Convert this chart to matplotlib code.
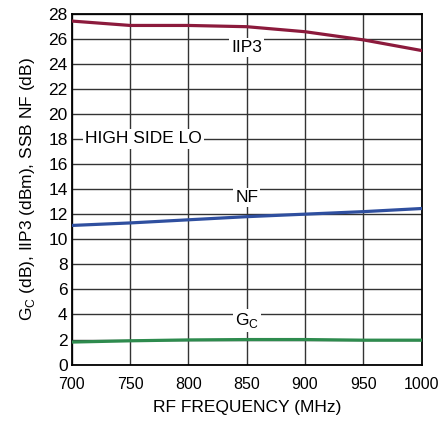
import matplotlib.pyplot as plt

# data
freq = [700, 750, 800, 850, 900, 950, 1000]
iip3 = [27.4, 27.05, 27.05, 26.95, 26.55, 25.9, 25.05]
nf = [11.1, 11.3, 11.55, 11.8, 12.0, 12.2, 12.45]
gc = [1.8, 1.9, 1.97, 2.0, 2.0, 1.95, 1.95]

font = 'Liberation Sans'
plt.rcParams['font.family'] = [font, 'DejaVu Sans']
plt.rcParams['mathtext.fontset'] = 'custom'
plt.rcParams['mathtext.rm'] = font

fs = 12.5
fig = plt.figure(figsize=(4.41, 4.23), dpi=100)
ax = fig.add_axes([0.163, 0.138, 0.793, 0.830])

ax.plot(freq, iip3, color='#8c1a3c', lw=2.3, zorder=3)
ax.plot(freq, nf, color='#2f4f9f', lw=2.3, zorder=3)
ax.plot(freq, gc, color='#2e8b4e', lw=2.3, zorder=3)

ax.set_xlim(700, 1000)
ax.set_ylim(0, 28)
ax.set_xticks(range(700, 1001, 50))
ax.set_yticks(range(0, 29, 2))
ax.grid(True, color='#333333', lw=1.0)
ax.set_axisbelow(True)
for s in ax.spines.values():
    s.set_linewidth(1.3)
ax.tick_params(axis='y', length=0, labelsize=fs, pad=3)
ax.tick_params(axis='x', length=0, labelsize=11.5, pad=9)

box = dict(facecolor='white', edgecolor='none', pad=1.5)
ax.text(850, 25.3, 'IIP3', ha='center', va='center', fontsize=fs, bbox=box, zorder=4)
ax.text(850, 13.3, 'NF', ha='center', va='center', fontsize=fs, bbox=box, zorder=4)
ax.text(850, 3.5, r'G$_\mathregular{C}$', ha='center', va='center', fontsize=fs, bbox=box, zorder=4)
ax.text(711, 18, 'HIGH SIDE LO', ha='left', va='center', fontsize=fs, bbox=box, zorder=4)

ax.set_xlabel('RF FREQUENCY (MHz)', fontsize=fs, labelpad=6)
ax.set_ylabel(r'G$_\mathregular{C}$ (dB), IIP3 (dBm), SSB NF (dB)', fontsize=fs, labelpad=8)

fig.savefig('out.png', dpi=100)
